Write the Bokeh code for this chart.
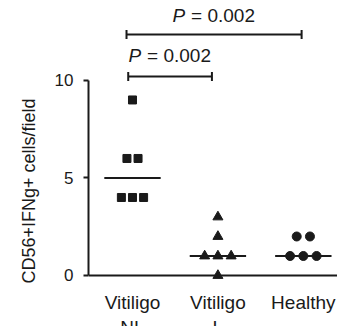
import numpy as np
from bokeh.plotting import figure
from bokeh.models import Range1d, Span, FixedTicker, Title
from bokeh.embed import file_html
from bokeh.resources import INLINE
from bokeh.core.properties import value

# ---------------- data ----------------
groups = ["Vitiligo\nNL", "Vitiligo\nL", "Healthy"]
vitiligo_nl = [9, 6, 6, 4, 4, 4]
vitiligo_l = [3, 2, 1, 1, 1, 0]
healthy = [2, 2, 1, 1, 1]
y_ticks = [0, 5, 10]
y_label = "CD56+IFNg+ cells/field"
comparisons = [(0, 1), (0, 2)]
p_values = ["0.002", "0.002"]

# ---------------- style / layout ----------------
INK = "#1a1a1a"
FONT = "Liberation Sans"
markers = ["square", "triangle", "circle"]
marker_sizes = [8, 10, 9]
dodge_steps = [0.13, 0.155, 0.155]
MEDIAN_HALF = 0.33
bracket_y = [10.2, 12.36]
bracket_x_pad = [(-0.05, -0.07), (-0.07, -0.02)]
text_y = [11.28, 13.33]
CAP = 0.23
CAT_LABEL_Y = -0.87

p = figure(width=337, height=326, output_backend="svg", toolbar_location=None,
           x_range=Range1d(-0.515, 2.4), y_range=Range1d(-2.615, 14.10),
           min_border_left=88, min_border_right=0, min_border_top=0,
           min_border_bottom=0)
p.xaxis.visible = False
p.xgrid.visible = False
p.ygrid.visible = False
p.outline_line_color = None
p.background_fill_color = "white"
p.border_fill_color = "white"

ya = p.yaxis[0]
ya.bounds = (0, 10)
ya.ticker = FixedTicker(ticks=y_ticks)
ya.minor_tick_line_color = None
ya.major_tick_in = 0
ya.major_tick_out = 5
ya.major_tick_line_width = 2
ya.major_tick_line_color = INK
ya.axis_line_width = 2
ya.axis_line_color = INK
ya.major_label_text_font = FONT
ya.major_label_text_font_size = "17px"
ya.major_label_text_color = INK
ya.major_label_standoff = 10

# y-axis title placed alongside the 0..10 axis span
p.add_layout(Title(text=y_label, align="left", offset=43, vertical_align="middle",
                   standoff=23, text_font=FONT, text_font_size="18px",
                   text_font_style="normal", text_color=INK), "left")

# x axis line at 0
p.add_layout(Span(location=0, dimension="width", line_color=INK, line_width=2))

# category labels
p.text(x=list(range(len(groups))), y=[CAT_LABEL_Y] * len(groups), text=groups,
       text_align="center", text_baseline="top", text_font=value(FONT),
       text_font_size="19px", text_color=INK, text_line_height=1.15)

series = [vitiligo_nl, vitiligo_l, healthy]
for gi, vals in enumerate(series):
    vals = np.array(vals, dtype=float)
    xs = np.zeros(len(vals))
    for v in np.unique(vals):
        idx = np.where(vals == v)[0]
        n = len(idx)
        for k, i in enumerate(idx):
            xs[i] = gi + (k - (n - 1) / 2) * dodge_steps[gi]
    p.scatter(xs, vals, marker=markers[gi], size=marker_sizes[gi],
              fill_color=INK, line_color=INK)
    med = float(np.median(vals))
    p.segment(x0=[gi - MEDIAN_HALF], y0=[med], x1=[gi + MEDIAN_HALF], y1=[med],
              line_color=INK, line_width=2)

# significance brackets
for (a, b), pv, by, (pa, pb), ty in zip(comparisons, p_values, bracket_y,
                                         bracket_x_pad, text_y):
    x0, x1 = a + pa, b + pb
    p.segment(x0=[x0, x0, x1], y0=[by, by - CAP, by - CAP],
              x1=[x1, x0, x1], y1=[by, by + CAP, by + CAP],
              line_color=INK, line_width=2)
    xc = (x0 + x1) / 2
    p.text(x=[xc], y=[ty], text=["P"], text_align="right", text_baseline="middle",
           x_offset=-29, text_font=value(FONT), text_font_size="19px",
           text_font_style="italic", text_color=INK)
    p.text(x=[xc], y=[ty], text=["= " + pv], text_align="left",
           text_baseline="middle", x_offset=-23, text_font=value(FONT),
           text_font_size="19px", text_color=INK)

open("out.html", "w").write(file_html(p, INLINE))
